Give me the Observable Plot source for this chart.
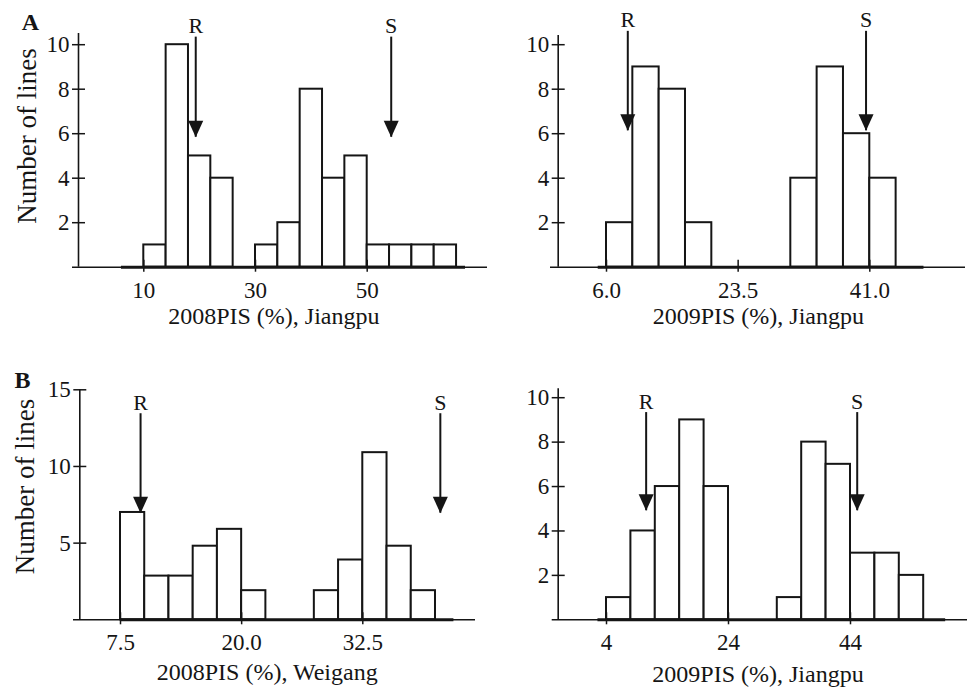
<!DOCTYPE html>
<html>
<head>
<meta charset="utf-8">
<script src="https://cdn.jsdelivr.net/npm/d3@7"></script>
<script src="https://cdn.jsdelivr.net/npm/@observablehq/plot@0.6"></script>
<style>
  html, body { margin: 0; padding: 0; background: white; }
  #chart { position: relative; width: 967px; height: 688px; background: white; }
  #chart svg { position: absolute; }
</style>
</head>
<body>
<div id="chart"></div>
<script>
// ---------- DATA ----------
// Panel A (left): 2008PIS (%), Jiangpu
const a08BinStart = 6, a08BinWidth = 4;
const a08Counts = [0, 1, 10, 5, 4, 0, 1, 2, 8, 4, 5, 1, 1, 1, 1];
const a08Zero = [6, 67.6];
const a08Arrows = [{label: "R", x: 19.3, top: 10.34, tip: 5.84}, {label: "S", x: 54.3, top: 10.34, tip: 5.84}];
const a08XTicks = [10, 30, 50];
const a08YTicks = [2, 4, 6, 8, 10];

// Panel A (right): 2009PIS (%), Jiangpu
const a09BinStart = 6, a09BinWidth = 3.5;
const a09Counts = [2, 9, 8, 2, 0, 0, 0, 4, 9, 6, 4, 0];
const a09Zero = [4.9, 48.2];
const a09Arrows = [{label: "R", x: 8.83, top: 10.6, tip: 6.13}, {label: "S", x: 40.5, top: 10.6, tip: 6.13}];
const a09XTicks = [6.0, 23.5, 41.0];
const a09YTicks = [2, 4, 6, 8, 10];

// Panel B (left): 2008PIS (%), Weigang
const b08BinStart = 7.5, b08BinWidth = 2.5;
const b08Counts = [7, 2.85, 2.85, 4.8, 5.9, 1.9, 0, 0, 1.9, 3.9, 10.9, 4.8, 1.9];
const b08Zero = [7.5, 41.9];
const b08Arrows = [{label: "R", x: 9.57, top: 13.44, tip: 6.95}, {label: "S", x: 40.5, top: 13.44, tip: 6.95}];
const b08XTicks = [7.5, 20.0, 32.5];
const b08YTicks = [5, 10, 15];

// Panel B (right): 2009PIS (%), Jiangpu
const b09BinStart = 4, b09BinWidth = 4;
const b09Counts = [1, 4, 6, 9, 6, 0, 0, 1, 8, 7, 3, 3, 2, 0];
const b09Zero = [2.6, 59.6];
const b09Arrows = [{label: "R", x: 10.5, top: 9.33, tip: 4.91}, {label: "S", x: 45.1, top: 9.33, tip: 4.91}];
const b09XTicks = [4, 24, 44];
const b09YTicks = [2, 4, 6, 8, 10];

const xLabels = ["2008PIS (%), Jiangpu", "2009PIS (%), Jiangpu", "2008PIS (%), Weigang", "2009PIS (%), Jiangpu"];
const yLabel = "Number of lines";
const panelLetters = ["A", "B"];

// ---------- LAYOUT (pixels) ----------
const layouts = [
  {left: 0, top: 0, width: 490, height: 330, axisX: 78, axisTop: 33, base: 266.7, baseL: 72, baseR: 487,
   xMap: [10, 143.3, 50, 366.7], yMap: [0, 266.7, 10, 44.2], xTickPad: 9.5,
   xLabelAt: [273.3, 315.5], yLabelAt: [26.4, 135.5], letterAt: [30, 22.3]},
  {left: 490, top: 0, width: 477, height: 330, axisX: 67.7, axisTop: 35, base: 266.7, baseL: 60, baseR: 475,
   xMap: [6, 116, 41, 379.3], yMap: [0, 266.7, 10, 44.2], xTickPad: 9.5,
   xLabelAt: [267.8, 315.5]},
  {left: 0, top: 330, width: 490, height: 358, axisX: 79.3, axisTop: 59.3, base: 289.3, baseL: 73, baseR: 475,
   xMap: [7.5, 120, 32.5, 362.3], yMap: [0, 289.3, 15, 59.3], xTickPad: 9,
   xLabelAt: [266.7, 342.3], yLabelAt: [24.4, 156], letterAt: [22, 49.6]},
  {left: 490, top: 330, width: 477, height: 358, axisX: 67.7, axisTop: 58.3, base: 289.3, baseL: 61.7, baseR: 477,
   xMap: [4, 116, 44, 360], yMap: [0, 289.3, 10, 67.2], xTickPad: 9,
   xLabelAt: [267.5, 343.8]}
];

const ink = "#151515";
const fontFamily = "'Liberation Serif', 'Times New Roman', Times, serif";

// filled, downward-pointing arrowhead whose tip is at the anchor point
const arrowHead = {
  draw(context, size) {
    const r = Math.sqrt(size / Math.PI);
    const w = 1.5 * r, h = 3.3 * r;
    context.moveTo(0, 0);
    context.lineTo(-w, -h);
    context.lineTo(w, -h);
    context.closePath();
  }
};

function panel(L, cfg) {
  const xs = d3.scaleLinear([L.xMap[0], L.xMap[2]], [L.xMap[1], L.xMap[3]]);
  const ys = d3.scaleLinear([L.yMap[0], L.yMap[2]], [L.yMap[1], L.yMap[3]]);
  const mL = L.axisX, mR = L.width - L.baseR, mT = L.axisTop, mB = L.height - L.base;
  const xDom = [xs.invert(mL), xs.invert(L.baseR)];
  const yDom = [ys.invert(L.base), ys.invert(mT)];
  const bins = cfg.counts.map((c, i) => ({
    x1: cfg.binStart + i * cfg.binWidth,
    x2: cfg.binStart + (i + 1) * cfg.binWidth,
    base: 0,
    count: c
  })).filter(d => d.count > 0);
  const at = (p) => ({frameAnchor: "top-left", dx: p[0] - mL, dy: p[1] - mT, textAnchor: "middle", lineAnchor: "middle"});

  const marks = [
    Plot.rect(bins, {x1: "x1", x2: "x2", y1: "base", y2: "count", fill: "white", stroke: ink, strokeWidth: 2, inset: 0}),
    Plot.ruleY([0], {x1: () => xs.invert(L.baseL), x2: () => xDom[1], stroke: ink, strokeWidth: 1.5}),
    Plot.ruleY([0], {x1: () => cfg.zero[0], x2: () => cfg.zero[1], stroke: ink, strokeWidth: 3}),
    Plot.ruleX([xDom[0]], {stroke: ink, strokeWidth: 1.6}),
    Plot.axisY({ticks: cfg.yTicks, tickSize: 13, dx: 7, tickPadding: 3, fontSize: 23, stroke: ink, strokeWidth: 1.5, label: null}),
    Plot.axisX({ticks: cfg.xTicks, tickFormat: cfg.xFmt, tickSize: 12, dy: -7, tickPadding: L.xTickPad, fontSize: 23, stroke: ink, strokeWidth: 1.5, label: null}),
    Plot.ruleX(cfg.arrows, {x: "x", y1: "top", y2: "tip", stroke: ink, strokeWidth: 2}),
    Plot.dot(cfg.arrows, {x: "x", y: "tip", r: 5, symbol: arrowHead, fill: ink, stroke: "none"}),
    Plot.text(cfg.arrows, {x: "x", y: "top", text: "label", dy: -11, fontSize: 22, lineAnchor: "middle"}),
    Plot.text([cfg.xLabel], {...at(L.xLabelAt), text: d => d, fontSize: 24})
  ];
  if (cfg.yLabel) marks.push(Plot.text([cfg.yLabel], {...at(L.yLabelAt), text: d => d, rotate: -90, fontSize: 27}));
  if (cfg.letter) marks.push(Plot.text([cfg.letter], {...at(L.letterAt), text: d => d, fontSize: 24, fontWeight: "bold"}));

  const svg = Plot.plot({
    width: L.width,
    height: L.height,
    marginLeft: mL,
    marginRight: mR,
    marginTop: mT,
    marginBottom: mB,
    x: {domain: xDom, label: null},
    y: {domain: yDom, label: null},
    style: {fontFamily, color: ink, background: "white", overflow: "visible"},
    marks
  });
  svg.style.left = L.left + "px";
  svg.style.top = L.top + "px";
  return svg;
}

const fmtInt = d3.format("d");
const fmt1 = d3.format(".1f");

const configs = [
  {binStart: a08BinStart, binWidth: a08BinWidth, counts: a08Counts, zero: a08Zero, arrows: a08Arrows,
   xTicks: a08XTicks, xFmt: fmtInt, yTicks: a08YTicks, xLabel: xLabels[0], yLabel: yLabel, letter: panelLetters[0]},
  {binStart: a09BinStart, binWidth: a09BinWidth, counts: a09Counts, zero: a09Zero, arrows: a09Arrows,
   xTicks: a09XTicks, xFmt: fmt1, yTicks: a09YTicks, xLabel: xLabels[1]},
  {binStart: b08BinStart, binWidth: b08BinWidth, counts: b08Counts, zero: b08Zero, arrows: b08Arrows,
   xTicks: b08XTicks, xFmt: fmt1, yTicks: b08YTicks, xLabel: xLabels[2], yLabel: yLabel, letter: panelLetters[1]},
  {binStart: b09BinStart, binWidth: b09BinWidth, counts: b09Counts, zero: b09Zero, arrows: b09Arrows,
   xTicks: b09XTicks, xFmt: fmtInt, yTicks: b09YTicks, xLabel: xLabels[3]}
];

const chart = document.getElementById("chart");
configs.forEach((cfg, i) => chart.appendChild(panel(layouts[i], cfg)));
</script>
</body>
</html>
